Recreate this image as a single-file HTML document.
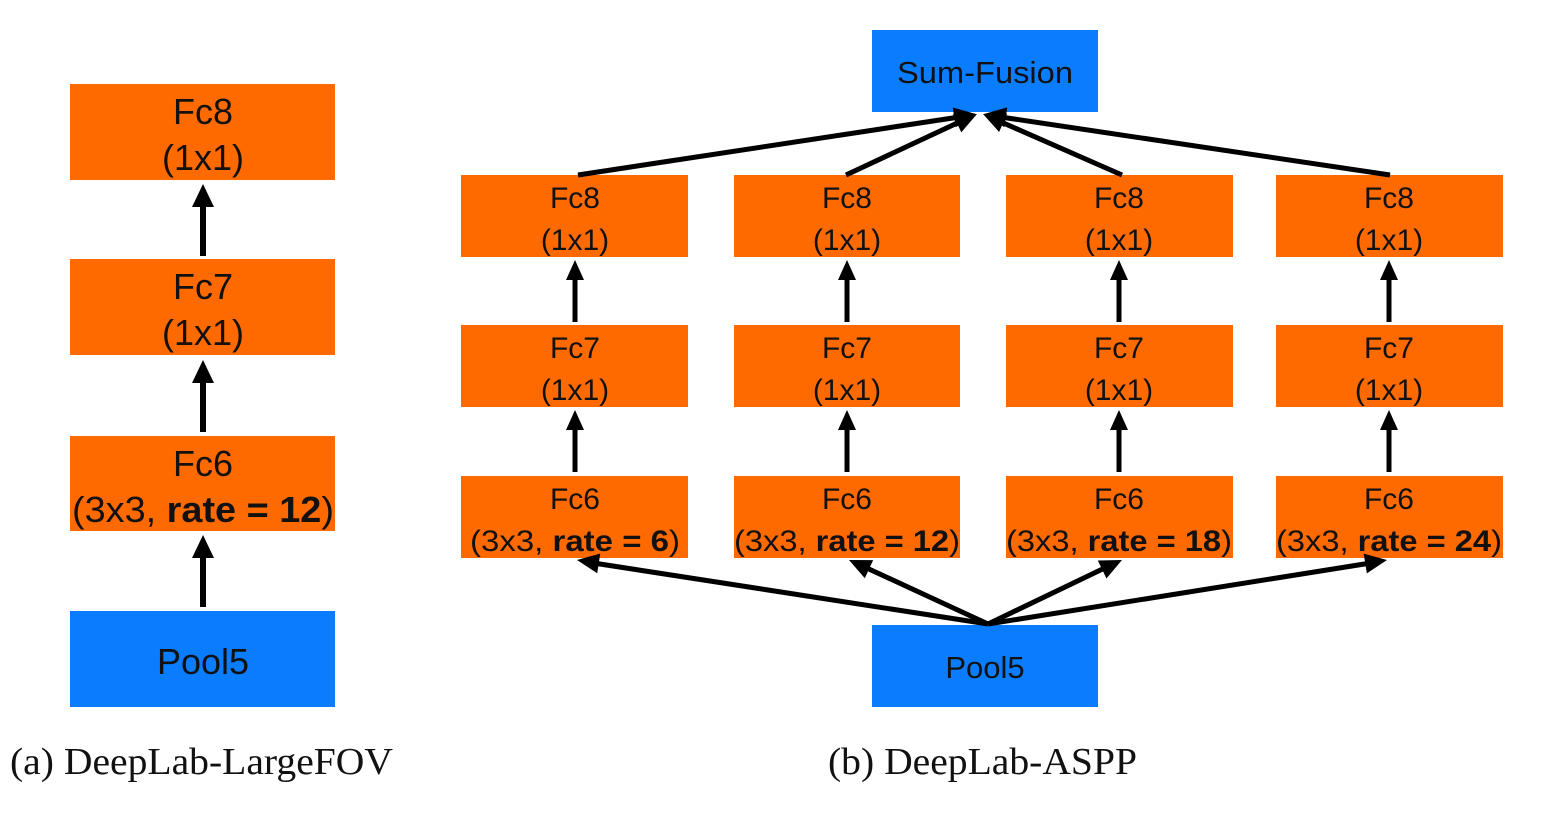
<!DOCTYPE html>
<html><head><meta charset="utf-8"><style>
html,body{margin:0;padding:0;background:#fff;}
svg{display:block;}
text{font-family:"Liberation Sans",Arial,sans-serif;fill:#111;}
.cap{font-family:"Liberation Serif","Times New Roman",serif;font-size:38px;}
</style></head><body>
<svg width="1541" height="818" viewBox="0 0 1541 818" xmlns="http://www.w3.org/2000/svg">
<g fill="#ff6a00">
<rect x="70" y="84" width="265" height="96"/>
<rect x="70" y="259" width="265" height="96"/>
<rect x="70" y="436" width="265" height="95"/>
</g>
<rect x="70" y="611" width="265" height="96" fill="#0a7dff"/>
<g font-size="36" text-anchor="middle">
<text x="203" y="124">Fc8</text><text x="203" y="170">(1x1)</text>
<text x="203" y="299">Fc7</text><text x="203" y="345">(1x1)</text>
<text x="203" y="476">Fc6</text>
<text x="203" y="522" textLength="262" lengthAdjust="spacingAndGlyphs">(3x3, <tspan font-weight="bold">rate = 12</tspan>)</text>
<text x="203" y="674">Pool5</text>
</g>
<g stroke="#000" stroke-width="6">
<line x1="203" y1="256" x2="203" y2="200"/>
<line x1="203" y1="432" x2="203" y2="376"/>
<line x1="203" y1="607" x2="203" y2="551"/>
</g>
<g fill="#000">
<polygon points="203,184 192,207 214,207"/>
<polygon points="203,360 192,383 214,383"/>
<polygon points="203,535 192,558 214,558"/>
</g>
<rect x="872" y="30" width="226" height="82" fill="#0a7dff"/>
<rect x="872" y="625" width="226" height="82" fill="#0a7dff"/>
<g font-size="31" text-anchor="middle">
<text x="985" y="83" textLength="176" lengthAdjust="spacingAndGlyphs">Sum-Fusion</text>
<text x="985" y="678">Pool5</text>
</g>
<g fill="#ff6a00">
<rect x="461" y="175" width="227" height="82"/><rect x="461" y="325" width="227" height="82"/><rect x="461" y="476" width="227" height="82"/>
<rect x="734" y="175" width="226" height="82"/><rect x="734" y="325" width="226" height="82"/><rect x="734" y="476" width="226" height="82"/>
<rect x="1006" y="175" width="227" height="82"/><rect x="1006" y="325" width="227" height="82"/><rect x="1006" y="476" width="227" height="82"/>
<rect x="1276" y="175" width="227" height="82"/><rect x="1276" y="325" width="227" height="82"/><rect x="1276" y="476" width="227" height="82"/>
</g>
<g font-size="30" text-anchor="middle">
<text x="575" y="208">Fc8</text><text x="575" y="250">(1x1)</text>
<text x="575" y="358">Fc7</text><text x="575" y="400">(1x1)</text>
<text x="575" y="509">Fc6</text>
<text x="575" y="551" textLength="210" lengthAdjust="spacingAndGlyphs">(3x3, <tspan font-weight="bold">rate = 6</tspan>)</text>
<text x="847" y="208">Fc8</text><text x="847" y="250">(1x1)</text>
<text x="847" y="358">Fc7</text><text x="847" y="400">(1x1)</text>
<text x="847" y="509">Fc6</text>
<text x="847" y="551" textLength="226" lengthAdjust="spacingAndGlyphs">(3x3, <tspan font-weight="bold">rate = 12</tspan>)</text>
<text x="1119" y="208">Fc8</text><text x="1119" y="250">(1x1)</text>
<text x="1119" y="358">Fc7</text><text x="1119" y="400">(1x1)</text>
<text x="1119" y="509">Fc6</text>
<text x="1119" y="551" textLength="226" lengthAdjust="spacingAndGlyphs">(3x3, <tspan font-weight="bold">rate = 18</tspan>)</text>
<text x="1389" y="208">Fc8</text><text x="1389" y="250">(1x1)</text>
<text x="1389" y="358">Fc7</text><text x="1389" y="400">(1x1)</text>
<text x="1389" y="509">Fc6</text>
<text x="1389" y="551" textLength="226" lengthAdjust="spacingAndGlyphs">(3x3, <tspan font-weight="bold">rate = 24</tspan>)</text>
</g>
<g stroke="#000" stroke-width="5">
<line x1="575" y1="322" x2="575" y2="272"/><line x1="575" y1="472" x2="575" y2="422"/>
<line x1="847" y1="322" x2="847" y2="272"/><line x1="847" y1="472" x2="847" y2="422"/>
<line x1="1119" y1="322" x2="1119" y2="272"/><line x1="1119" y1="472" x2="1119" y2="422"/>
<line x1="1389" y1="322" x2="1389" y2="272"/><line x1="1389" y1="472" x2="1389" y2="422"/>
<line x1="578" y1="175" x2="966" y2="116"/>
<line x1="846" y1="175" x2="968" y2="118"/>
<line x1="1122" y1="175" x2="992" y2="118"/>
<line x1="1390" y1="175" x2="994" y2="116"/>
<line x1="988" y1="624" x2="587" y2="562"/>
<line x1="988" y1="624" x2="858" y2="564"/>
<line x1="988" y1="624" x2="1113" y2="564"/>
<line x1="988" y1="624" x2="1377" y2="562"/>
</g>
<g fill="#000">
<polygon points="0,0 -20,-9 -20,9" transform="translate(575,260) rotate(-90)"/>
<polygon points="0,0 -20,-9 -20,9" transform="translate(575,410) rotate(-90)"/>
<polygon points="0,0 -20,-9 -20,9" transform="translate(847,260) rotate(-90)"/>
<polygon points="0,0 -20,-9 -20,9" transform="translate(847,410) rotate(-90)"/>
<polygon points="0,0 -20,-9 -20,9" transform="translate(1119,260) rotate(-90)"/>
<polygon points="0,0 -20,-9 -20,9" transform="translate(1119,410) rotate(-90)"/>
<polygon points="0,0 -20,-9 -20,9" transform="translate(1389,260) rotate(-90)"/>
<polygon points="0,0 -20,-9 -20,9" transform="translate(1389,410) rotate(-90)"/>
<polygon points="0,0 -22,-10 -22,10" transform="translate(976,114) rotate(-8.71)"/>
<polygon points="0,0 -22,-10 -22,10" transform="translate(977,114) rotate(-24.97)"/>
<polygon points="0,0 -22,-10 -22,10" transform="translate(983,114) rotate(-156.31)"/>
<polygon points="0,0 -22,-10 -22,10" transform="translate(984,114) rotate(-171.46)"/>
<polygon points="0,0 -22,-10 -22,10" transform="translate(577,560) rotate(-171.15)"/>
<polygon points="0,0 -22,-10 -22,10" transform="translate(849,560) rotate(-155.28)"/>
<polygon points="0,0 -22,-10 -22,10" transform="translate(1122,560) rotate(-25.53)"/>
<polygon points="0,0 -22,-10 -22,10" transform="translate(1387,560) rotate(-9.11)"/>
</g>
<text class="cap" x="10" y="774" textLength="383" lengthAdjust="spacingAndGlyphs">(a) DeepLab-LargeFOV</text>
<text class="cap" x="828" y="774" textLength="309" lengthAdjust="spacingAndGlyphs">(b) DeepLab-ASPP</text>
</svg>
</body></html>
